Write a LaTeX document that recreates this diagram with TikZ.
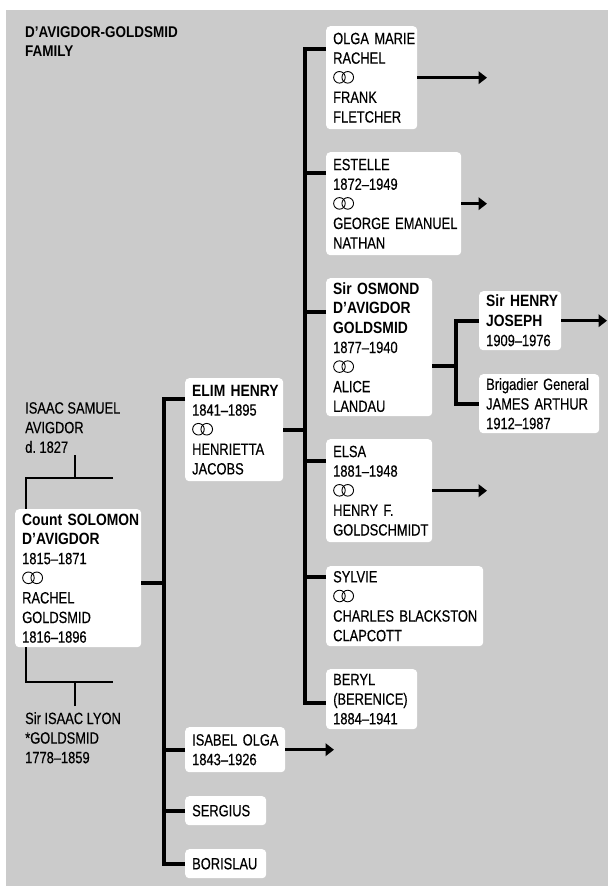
\documentclass[tikz,border=0pt]{standalone}
\usepackage{fontspec}
\setmainfont{Liberation Sans}[FakeStretch=0.79, FakeBold=0.35]
\newfontfamily\bfont{Liberation Sans}[FakeStretch=0.85]
\newfontfamily\titlefont{Liberation Sans}[FakeStretch=0.87]
\usetikzlibrary{arrows.meta}
\definecolor{bg}{HTML}{CBCBCB}
\newcommand\bfx[1]{{\bfont\bfseries #1}}
\newcommand\rings{\tikz[baseline=0pt,x=1pt,y=1pt,line width=0.9pt]{\draw[black] (6,6) circle[radius=5.8]; \draw[black] (14.3,6) circle[radius=5.8];}}
\hfuzz=200pt
\hbadness=10000
\hyphenpenalty=10000
\exhyphenpenalty=10000
\tikzset{
  body/.style={font=\fontsize{16.3}{19.6}\selectfont},
  pbox/.style={body, fill=white, rounded corners=4pt, anchor=north west, align=left, inner xsep=7pt, inner ysep=0pt},
  plain/.style={body, anchor=north west, align=left, inner sep=0pt},
  conn/.style={draw=black, line width=3.8pt, line join=miter},
  bline/.style={draw=black, line width=2.3pt, line join=miter},
  arr/.style={draw=black, line width=3.4pt, -{Triangle[length=8.5pt,width=12.5pt]}}
}
\newcommand\pbox[6]{\node[pbox, text width=#4pt-14pt, minimum height=#5pt] (#1) at (#2,#3) {#6};}
\begin{document}
\begin{tikzpicture}[x=1pt,y=-1pt]
\useasboundingbox (0,0) rectangle (608,886);
\fill[bg] (6,10) rectangle (608,886);

% title
\node[anchor=north west, inner sep=0pt, align=left, font=\titlefont\bfseries\fontsize{15.5}{19.3}\selectfont] (title) at (25,26.5) {D’AVIGDOR-GOLDSMID\\FAMILY};

% boxes
\pbox{olga}{326}{26}{91}{103}{OLGA~MARIE\\RACHEL\\\rings\\FRANK\\FLETCHER}
\pbox{estelle}{326}{152}{135}{103}{ESTELLE\\1872--1949\\\rings\\GEORGE~EMANUEL\\NATHAN}
\pbox{osmond}{326}{278}{106}{138}{\bfx{Sir~OSMOND}\\\bfx{D’AVIGDOR}\\\bfx{GOLDSMID}\\1877--1940\\\rings\\ALICE\\LANDAU}
\pbox{elsa}{326}{439}{106}{103}{ELSA\\1881--1948\\\rings\\HENRY~F.\\GOLDSCHMIDT}
\pbox{sylvie}{326}{566}{157}{80}{SYLVIE\\\rings\\CHARLES~BLACKSTON\\CLAPCOTT}
\pbox{beryl}{326}{669}{91}{60}{BERYL\\(BERENICE)\\1884--1941}
\pbox{henryj}{479}{291}{82}{59}{\bfx{Sir~HENRY}\\\bfx{JOSEPH}\\1909--1976}
\pbox{james}{479}{374}{120}{59}{Brigadier~General\\JAMES~ARTHUR\\1912--1987}
\pbox{elim}{185}{378}{98}{103}{\bfx{ELIM~HENRY}\\1841--1895\\\rings\\HENRIETTA\\JACOBS}
\pbox{isabel}{185}{727}{100}{45}{ISABEL~OLGA\\1843--1926}
\pbox{sergius}{185}{796}{81}{29}{SERGIUS}
\pbox{borislau}{185}{849}{81}{29}{BORISLAU}
\pbox{solomon}{15}{509}{126}{138}{\bfx{Count~SOLOMON}\\\bfx{D’AVIGDOR}\\1815--1871\\\rings\\RACHEL\\GOLDSMID\\1816--1896}

% plain texts
\node[plain] (isaac) at (25,402) {ISAAC~SAMUEL\\AVIGDOR\\d.~1827};
\node[plain] (lyon) at (25,712) {Sir~ISAAC~LYON\\*GOLDSMID\\1778--1859};

% trunk coordinates
\coordinate (T1) at (164,0);
\coordinate (T2) at (305,0);
\coordinate (T3) at (456,0);
\coordinate (A1) at (487,0);
\coordinate (A2) at (607,0);
\coordinate (A3) at (334,0);

% left trunk
\coordinate (elimS) at ([yshift=-21pt]elim.north west);
\draw[conn] (elimS) -| (T1 |- borislau.west) -- (borislau.west);
\coordinate (solS) at ([yshift=-5pt]solomon.east);
\draw[conn] (solS) -- (solS -| T1);
\draw[conn] (isabel.west) -- (isabel.west -| T1);
\draw[conn] (sergius.west) -- (sergius.west -| T1);

% middle trunk
\coordinate (olgaS) at ([yshift=-23pt]olga.north west);
\coordinate (berylS) at ([yshift=-34pt]beryl.north west);
\draw[conn] (olgaS) -| (T2 |- berylS) -- (berylS);
\coordinate (estS) at ([yshift=-21pt]estelle.north west);
\draw[conn] (estS) -- (estS -| T2);
\coordinate (osmS) at ([yshift=-34pt]osmond.north west);
\draw[conn] (osmS) -- (osmS -| T2);
\coordinate (elsaS) at ([yshift=-22pt]elsa.north west);
\draw[conn] (elsaS) -- (elsaS -| T2);
\coordinate (sylS) at ([yshift=-11pt]sylvie.north west);
\draw[conn] (sylS) -- (sylS -| T2);
\draw[conn] (elim.east) -- (elim.east -| T2);

% osmond children
\coordinate (osE) at ([yshift=-19pt]osmond.east);
\draw[conn] (osE) -- (osE -| T3);
\draw[conn] (henryj.west) -| (T3 |- james.west) -- (james.west);

% arrows
\draw[arr] (olga.east) -- (olga.east -| A1);
\draw[arr] (estelle.east) -- (estelle.east -| A1);
\draw[arr] (elsa.east) -- (elsa.east -| A1);
\draw[arr] (henryj.east) -- (henryj.east -| A2);
\draw[arr] (isabel.east) -- (isabel.east -| A3);

% left brackets
\coordinate (jl) at (26,0);
\coordinate (jt) at (75,455);
\coordinate (jr) at (113,478);
\draw[bline] (jt) -- (jt |- jr);
\draw[bline] (jr) -| (jl |- solomon.north);
\coordinate (kb) at (75,706);
\coordinate (kr) at (113,682);
\draw[bline] (jl |- solomon.south) |- (kr);
\draw[bline] (kb) -- (kb |- kr);
\end{tikzpicture}
\end{document}
